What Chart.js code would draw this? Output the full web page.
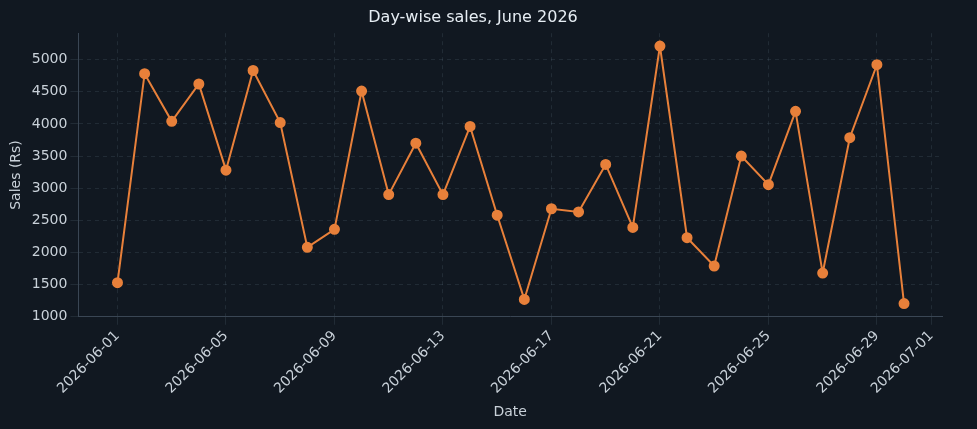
<!DOCTYPE html>
<html>
<head>
<meta charset="utf-8">
<script src="https://cdn.jsdelivr.net/npm/chart.js@4"></script>
<style>
  html, body { margin: 0; padding: 0; background: #111821; }
  #wrap { width: 977px; height: 429px; }
</style>
</head>
<body>
<div id="wrap"><canvas id="c"></canvas></div>
<script>
// June 2026 daily sales (day index 0 = 2026-06-01)
const days = Array.from({ length: 30 }, (_, i) => i);
const sales = [1530, 4780, 4040, 4620, 3280, 4830, 4020, 2080, 2360, 4510,
               2900, 3700, 2900, 3960, 2580, 1270, 2680, 2630, 3370, 2390,
               5210, 2230, 1790, 3500, 3055, 4195, 1680, 3785, 4920, 1205];
const tickDays = [0, 4, 8, 12, 16, 20, 24, 28, 30];
const yTicks = [1000, 1500, 2000, 2500, 3000, 3500, 4000, 4500, 5000];

function dayLabel(d) {
  const dt = new Date(Date.UTC(2026, 5, 1 + d));
  return dt.toISOString().slice(0, 10);
}

const grid = { color: 'rgba(120,140,160,0.16)' };
const border = { color: '#3a4654', dash: [4, 4] };
const tickColor = '#c9d1d9';

new Chart(document.getElementById('c'), {
  type: 'line',
  data: {
    datasets: [{
      data: days.map((d, i) => ({ x: d, y: sales[i] })),
      borderColor: '#e8803a',
      backgroundColor: '#e8803a',
      borderWidth: 2,
      pointRadius: 4.5,
      tension: 0
    }]
  },
  options: {
    responsive: true,
    maintainAspectRatio: false,
    animation: false,
    layout: { padding: { right: 35, left: 4, bottom: 4 } },
    plugins: {
      legend: { display: false },
      title: { display: true, text: 'Day-wise sales, June 2026', color: '#e6edf3',
               font: { family: 'DejaVu Sans', size: 16, weight: 'normal' }, padding: { top: 8, bottom: 6 } }
    },
    scales: {
      x: {
        type: 'linear', min: -1.44, max: 30.4,
        afterBuildTicks: s => { s.ticks = tickDays.map(v => ({ value: v })); },
        ticks: { color: tickColor, maxRotation: 45, minRotation: 45,
                 font: { family: 'DejaVu Sans', size: 14 }, callback: v => dayLabel(v) },
        grid: grid, border: border,
        title: { display: true, text: 'Date', color: tickColor, font: { family: 'DejaVu Sans', size: 14 } }
      },
      y: {
        min: 1000, max: 5410,
        afterBuildTicks: s => { s.ticks = yTicks.map(v => ({ value: v })); },
        ticks: { color: tickColor, font: { family: 'DejaVu Sans', size: 14 }, callback: v => String(v) },
        grid: grid, border: border,
        title: { display: true, text: 'Sales (Rs)', color: tickColor, font: { family: 'DejaVu Sans', size: 14 } }
      }
    }
  }
});
</script>
</body>
</html>
